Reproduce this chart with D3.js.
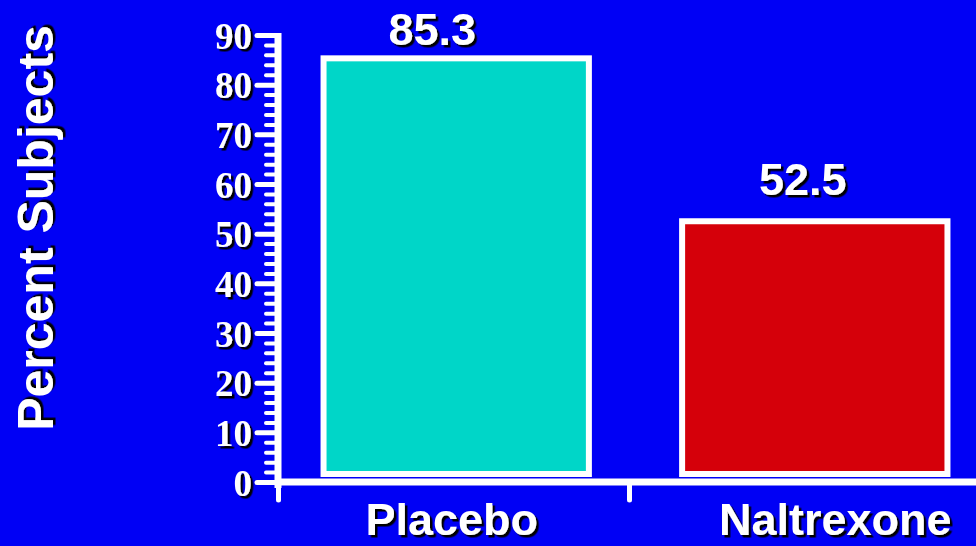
<!DOCTYPE html>
<html>
<head>
<meta charset="utf-8">
<script src="https://cdn.jsdelivr.net/npm/d3@7"></script>
<style>
  html, body { margin: 0; padding: 0; background: #0000F5; }
  svg { display: block; }
</style>
</head>
<body>
<svg id="chart" width="976" height="546"></svg>
<script>
// ---- data ----
const categories = ["Placebo", "Naltrexone"];
const values = [85.3, 52.5];
const valueLabels = ["85.3", "52.5"];
const barColors = ["#00D6C8", "#D5000A"];
const majorTicks = [0, 10, 20, 30, 40, 50, 60, 70, 80, 90];
const minorTicks = d3.range(0, 90, 2).filter(v => v % 10 !== 0);
const yTitle = "Percent Subjects";

// ---- layout ----
const W = 976, H = 546;
const svg = d3.select("#chart");
const defs = svg.append("defs");
defs.append("filter").attr("id", "shadow")
  .attr("x", "-10%").attr("y", "-10%").attr("width", "130%").attr("height", "130%")
  .append("feDropShadow")
  .attr("dx", 2.5).attr("dy", 2.5).attr("stdDeviation", 0.4)
  .attr("flood-color", "#000").attr("flood-opacity", 1);

svg.append("rect").attr("width", W).attr("height", H).attr("fill", "#0000F5");

const y = d3.scaleLinear().domain([0, 90]).range([482, 35]);
const x = d3.scaleBand().domain(categories).range([278, 993])
  .paddingInner(0.26).paddingOuter(0.127);
const xSep = d3.scaleLinear().domain([0, 2]).range([278, 980]);

const axisX = 278;
const barLift = 8;            // bars sit just above the baseline
const catLabelNudge = [-4.5, 20.5];
const valLabelNudge = [-24, -12];
const valLabelY = [45, 195];

// bars
svg.selectAll("rect.bar").data(values).enter().append("rect")
  .attr("class", "bar")
  .attr("x", (d, i) => x(categories[i]))
  .attr("width", x.bandwidth())
  .attr("y", d => y(d))
  .attr("height", d => y(0) - barLift - y(d))
  .attr("fill", (d, i) => barColors[i])
  .attr("stroke", "#fff").attr("stroke-width", 6);

// minor ticks
const minorAxis = d3.axisLeft(y).tickValues(minorTicks).tickSize(12).tickFormat("");
const gMinor = svg.append("g").attr("transform", `translate(${axisX},0)`).call(minorAxis);
gMinor.select(".domain").remove();
gMinor.selectAll("line").attr("stroke", "#fff").attr("stroke-width", 4).attr("stroke-linecap", "round");

// major ticks
const majorAxis = d3.axisLeft(y).tickValues(majorTicks).tickSize(21).tickPadding(5)
  .tickFormat(d3.format("d"));
const gMajor = svg.append("g").attr("transform", `translate(${axisX},0)`).call(majorAxis);
gMajor.select(".domain").remove();
gMajor.selectAll("line").attr("stroke", "#fff").attr("stroke-width", 5).attr("stroke-linecap", "round");
gMajor.selectAll("text")
  .attr("fill", "#fff")
  .attr("font-family", "'Liberation Serif', 'Times New Roman', serif")
  .attr("font-weight", "bold")
  .attr("font-size", 37)
  .attr("dy", "0.36em")
  .attr("filter", "url(#shadow)");
gMajor.attr("font-size", null).attr("font-family", null);

// x axis baseline with separator ticks
const sepAxis = d3.axisBottom(xSep).tickValues([0, 1]).tickSize(18).tickFormat("");
const gSep = svg.append("g").attr("transform", `translate(0,${y(0)})`).call(sepAxis);
gSep.select(".domain").remove();
gSep.selectAll("line").attr("stroke", "#fff").attr("stroke-width", 5).attr("stroke-linecap", "round");

svg.append("line")
  .attr("x1", axisX).attr("x2", W + 10)
  .attr("y1", y(0)).attr("y2", y(0))
  .attr("stroke", "#fff").attr("stroke-width", 7);

// y axis line
svg.append("line")
  .attr("x1", axisX).attr("x2", axisX)
  .attr("y1", y(90) - 2).attr("y2", y(0) + 6)
  .attr("stroke", "#fff").attr("stroke-width", 7);

// value labels
svg.selectAll("text.val").data(valueLabels).enter().append("text")
  .attr("class", "val")
  .attr("x", (d, i) => x(categories[i]) + x.bandwidth() / 2 + valLabelNudge[i])
  .attr("y", (d, i) => valLabelY[i])
  .attr("text-anchor", "middle")
  .attr("font-family", "'Liberation Sans', Arial, sans-serif")
  .attr("font-weight", "bold").attr("font-size", 45)
  .attr("fill", "#fff").attr("filter", "url(#shadow)")
  .text(d => d);

// category labels
svg.selectAll("text.cat").data(categories).enter().append("text")
  .attr("class", "cat")
  .attr("x", (d, i) => x(d) + x.bandwidth() / 2 + catLabelNudge[i])
  .attr("y", 535)
  .attr("text-anchor", "middle")
  .attr("font-family", "'Liberation Sans', Arial, sans-serif")
  .attr("font-weight", "bold").attr("font-size", 45)
  .attr("fill", "#fff").attr("filter", "url(#shadow)")
  .text(d => d);

// y title
svg.append("text")
  .attr("transform", "translate(53,228) rotate(-90)")
  .attr("text-anchor", "middle")
  .attr("font-family", "'Liberation Sans', Arial, sans-serif")
  .attr("font-weight", "bold").attr("font-size", 50)
  .attr("fill", "#fff").attr("filter", "url(#shadow)")
  .text(yTitle);
</script>
</body>
</html>
